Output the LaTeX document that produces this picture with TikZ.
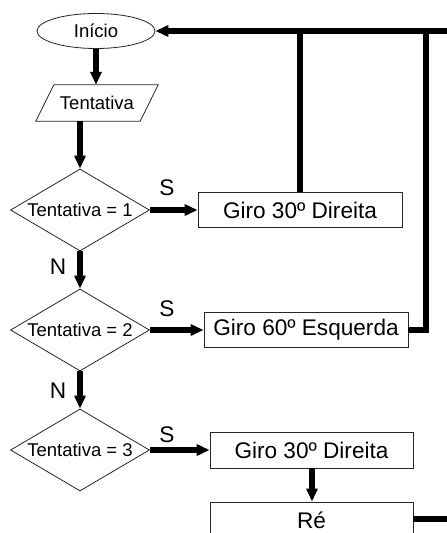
\documentclass[tikz,border=0pt]{standalone}
\usepackage{fontspec}
\setmainfont{Liberation Sans}
\usetikzlibrary{shapes.geometric,arrows.meta,calc}

\tikzset{
  small/.style={font=\fontsize{18.5}{20}\selectfont},
  big/.style={font=\fontsize{22.6}{25}\selectfont},
  outline/.style={draw=black!85, line width=0.8pt},
  startnode/.style={small, outline, ellipse, minimum width=118pt, minimum height=35pt, inner sep=0pt},
  testnode/.style={small, outline, diamond, aspect=1.7, minimum width=139pt, minimum height=82pt, inner sep=0pt},
  actionbox/.style={big, outline, rectangle, minimum width=204pt, minimum height=35pt, inner sep=0pt},
  flow/.style={line width=6.5pt, black},
  flowarrow/.style={flow, -{Triangle[length=13pt,width=11pt]}},
  lbl/.style={big, inner sep=0pt}
}

\begin{document}
\begin{tikzpicture}[x=1pt, y=-1pt]
  \useasboundingbox (0,0) rectangle (447,533);
  \clip (0,0) rectangle (447,533);
  \fill[white] (0,0) rectangle (447,533);

  % start and input
  \node[startnode] (inicio) at (96,31) {Início};
  \node[small, minimum width=104pt, minimum height=36pt, inner sep=0pt] (tent) at (97,103) {Tentativa};
  \draw[outline] ($(tent.north west)+(9,0)$) -- ($(tent.north east)+(9,0)$)
                 -- ($(tent.south east)+(-9,0)$) -- ($(tent.south west)+(-9,0)$) -- cycle;

  % decisions
  \node[testnode] (d1) at (80,210) {Tentativa = 1};
  \node[testnode] (d2) at (80,330) {Tentativa = 2};
  \node[testnode] (d3) at (80,450) {Tentativa = 3};

  % actions
  \node[actionbox] (b1) at (300,210) {Giro 30º Direita};
  \node[actionbox] (b2) at (306,330) {Giro 60º Esquerda};
  \node[actionbox, minimum width=203pt, minimum height=36pt] (b3) at (311.5,450) {Giro 30º Direita};
  \node[actionbox, minimum width=203pt, minimum height=36pt] (re) at (311.5,520) {Ré};

  % free ends of the return lines
  \coordinate (topright) at (447,31);
  \coordinate (loopx) at (426,31);
  \coordinate (reout) at (447,519);

  % main flow
  \draw[flowarrow] (inicio.south) -- (inicio.south |- tent.north);
  \draw[flowarrow] (tent.south -| d1.north) -- (d1.north);
  \draw[flowarrow] (d1.south) -- (d2.north);
  \draw[flowarrow] (d2.south) -- (d3.north);
  \draw[flowarrow] (d1.east) -- (b1.west);
  \draw[flowarrow] (d2.east) -- (b2.west);
  \draw[flowarrow] (d3.east) -- (b3.west);
  \draw[flowarrow] (b3.south -| 312,0) -- (re.north -| 312,0);

  % return lines
  \draw[flowarrow] (topright) -- (inicio.east);
  \draw[flow] (b1.north) -- (b1.north |- topright);
  \draw[flow] (b2.east) -| (loopx);
  \draw[flow] (re.east |- reout) -- (reout);

  % branch labels
  \node[lbl] (s1) at (167,188) {S};
  \node[lbl] (s2) at (167,309) {S};
  \node[lbl] (s3) at (167,435) {S};
  \node[lbl] (n1) at (58,267) {N};
  \node[lbl] (n2) at (58,391) {N};
\end{tikzpicture}
\end{document}
